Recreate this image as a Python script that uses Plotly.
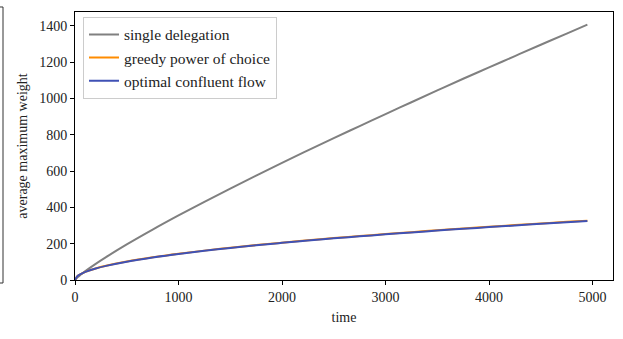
import plotly.graph_objects as go

time = [0, 25, 50, 100, 200, 300, 500, 750, 1000, 1250, 1500, 1750, 2000, 2250, 2500,
        2750, 3000, 3250, 3500, 3750, 4000, 4250, 4500, 4750, 4950]
single_delegation = [0, 14.7, 27.0, 49.1, 89.1, 126.2, 196.0, 277.6, 355.7, 431.0, 503.8,
                     575.3, 645.7, 714.3, 782.2, 848.4, 914.6, 979.7, 1044.7, 1109.0,
                     1171.6, 1234.2, 1296.7, 1358.2, 1407.0]
greedy_power = [0, 22.0, 31.4, 44.6, 63.6, 78.2, 101.5, 124.8, 144.5, 161.9, 177.7, 192.3,
                205.8, 218.6, 230.8, 242.2, 253.2, 263.8, 274.1, 284.0, 293.5, 302.7,
                311.8, 320.5, 327.2]
optimal_flow = [0, 21.9, 31.2, 44.4, 63.3, 77.8, 101.0, 124.2, 143.8, 161.1, 176.8, 191.3,
                204.7, 217.4, 229.5, 240.8, 251.7, 262.2, 272.4, 282.2, 291.6, 300.7,
                309.7, 318.3, 325.0]
x_ticks = [0, 1000, 2000, 3000, 4000, 5000]
y_ticks = [0, 200, 400, 600, 800, 1000, 1200, 1400]

font_family = "Liberation Serif, DejaVu Serif, serif"

fig = go.Figure()
fig.add_trace(go.Scatter(x=time, y=single_delegation, mode="lines", name="single delegation",
                         line=dict(color="#808080", width=2, shape="spline")))
fig.add_trace(go.Scatter(x=time, y=greedy_power, mode="lines", name="greedy power of choice",
                         line=dict(color="#ff8c00", width=2, shape="spline")))
fig.add_trace(go.Scatter(x=time, y=optimal_flow, mode="lines", name="optimal confluent flow",
                         line=dict(color="#3f51b5", width=2, shape="spline")))

axis_common = dict(showgrid=False, zeroline=False, showline=True, linecolor="black",
                   linewidth=1, mirror=True, ticks="outside", ticklen=4, tickwidth=1,
                   tickcolor="black", tickfont=dict(size=14, color="#222222", family=font_family))

fig.update_xaxes(range=[0, 5197.5], tickvals=x_ticks,
                 title=dict(text="time", font=dict(size=14, color="#222222", family=font_family),
                            standoff=8),
                 **axis_common)
fig.update_yaxes(range=[0, 1477], tickvals=y_ticks,
                 title=dict(text="average maximum weight",
                            font=dict(size=14, color="#222222", family=font_family), standoff=8),
                 **axis_common)

fig.add_shape(type="rect", xref="paper", yref="paper", x0=-0.3, x1=-0.1338, y0=-0.0112,
              y1=1.0187, line=dict(color="#333333", width=1), fillcolor="rgba(0,0,0,0)")

fig.update_layout(
    width=623, height=339,
    margin=dict(l=75, r=10, t=12, b=59),
    plot_bgcolor="white", paper_bgcolor="white",
    font=dict(family=font_family, size=14, color="#222222"),
    showlegend=True,
    legend=dict(x=0.0149, y=0.982, xanchor="left", yanchor="top",
                bgcolor="rgba(255,255,255,0.8)", bordercolor="#cccccc", borderwidth=1,
                font=dict(size=15.5, family=font_family, color="#222222"),
                tracegroupgap=0, itemwidth=30),
)

fig.write_html("out.html")
